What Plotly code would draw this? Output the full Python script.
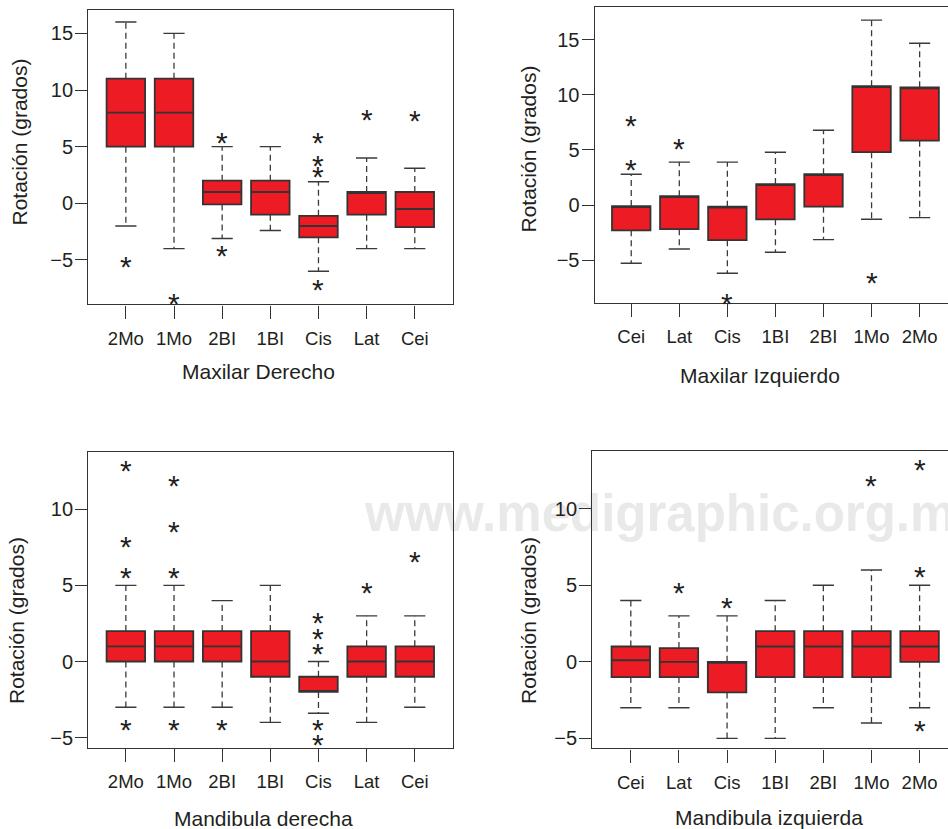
import plotly.graph_objects as go

# ---------------- data ----------------
# Panel 1: Maxilar Derecho
cats1 = ["2Mo", "1Mo", "2BI", "1BI", "Cis", "Lat", "Cei"]
lo1 = [-2, -4, -3.1, -2.4, -6, -4, -4]
q1_1 = [5, 5, -0.1, -1, -3, -1, -2.1]
med1 = [8, 8, 1, 1, -2, 1, -0.5]
q3_1 = [11, 11, 2, 2, -1.1, 1, 1]
hi1 = [16, 15, 5, 5, 1.9, 4, 3.1]
out1 = [[-5], [-8.2], [6, -4], [], [6, 4, 3, -7], [8], [7.9]]

# Panel 2: Maxilar Izquierdo
cats2 = ["Cei", "Lat", "Cis", "1BI", "2BI", "1Mo", "2Mo"]
lo2 = [-5.3, -4.0, -6.2, -4.3, -3.15, -1.3, -1.15]
q1_2 = [-2.3, -2.2, -3.2, -1.3, -0.15, 4.8, 5.85]
med2 = [-0.1, 0.8, -0.15, 1.9, 2.8, 10.8, 10.7]
q3_2 = [-0.1, 0.8, -0.15, 1.9, 2.8, 10.8, 10.7]
hi2 = [2.8, 3.9, 3.9, 4.8, 6.8, 16.8, 14.7]
out2 = [[7.9, 3.9], [5.8], [-8.3], [], [], [-6.4], []]

# Panel 3: Mandibula derecha
cats3 = ["2Mo", "1Mo", "2BI", "1BI", "Cis", "Lat", "Cei"]
lo3 = [-3, -3, -3, -4, -3.4, -4, -3]
q1_3 = [0, 0, 0, -1, -2, -1, -1]
med3 = [1, 1, 1, 0, -2, 0, 0]
q3_3 = [2, 2, 2, 2, -1, 1, 1]
hi3 = [5, 5, 4, 5, 0, 3, 3]
out3 = [[13, 8, 6, -4], [12, 9, 6, -4], [-4], [], [3, 2, 1, -4, -5], [5], [7]]

# Panel 4: Mandibula izquierda
cats4 = ["Cei", "Lat", "Cis", "1BI", "2BI", "1Mo", "2Mo"]
lo4 = [-3, -3, -5, -5, -3, -4, -3]
q1_4 = [-1, -1, -2, -1, -1, -1, 0]
med4 = [0.1, 0, 0, 1, 1, 1, 1]
q3_4 = [1, 0.9, 0, 2, 2, 2, 2]
hi4 = [4, 3, 3, 4, 5, 6, 5]
out4 = [[], [5], [4], [], [], [12], [13, 6, -4]]

xtitles = ["Maxilar Derecho", "Maxilar Izquierdo", "Mandibula derecha", "Mandibula izquierda"]
ytitle = "Rotación (grados)"
yticks = [-5, 0, 5, 10, 15]

# ---------------- styling ----------------
W, H = 948, 829
RED = "#ED1C24"
EDGE = "#333333"
INK = "#231f20"
FONT = "Liberation Sans, Arial, Helvetica, sans-serif"
BOXW = 0.8
CAPH = 0.22

panels = [
    dict(cats=cats1, lo=lo1, q1=q1_1, med=med1, q3=q3_1, hi=hi1, out=out1,
         xdom=[88.3 / W, 453.3 / W], ydom=[1 - 304.3 / H, 1 - 10 / H],
         xr=[-0.78, 6.80], yr=[-8.91, 17.06], ymirror=True,
         xt=(258.5, 372), yt=(18.5, 142)),
    dict(cats=cats2, lo=lo2, q1=q1_2, med=med2, q3=q3_2, hi=hi2, out=out2,
         xdom=[594.7 / W, 1.0], ydom=[1 - 302.7 / H, 1 - 7.3 / H],
         xr=[-0.76, 6.59], yr=[-8.88, 17.97], ymirror=False,
         xt=(760, 375.7), yt=(527.5, 149)),
    dict(cats=cats3, lo=lo3, q1=q1_3, med=med3, q3=q3_3, hi=hi3, out=out3,
         xdom=[88.3 / W, 453.3 / W], ydom=[1 - 747.7 / H, 1 - 451.7 / H],
         xr=[-0.78, 6.80], yr=[-5.66, 13.78], ymirror=True,
         xt=(263.7, 818), yt=(16, 621)),
    dict(cats=cats4, lo=lo4, q1=q1_4, med=med4, q3=q3_4, hi=hi4, out=out4,
         xdom=[592.3 / W, 1.0], ydom=[1 - 748.3 / H, 1 - 451 / H],
         xr=[-0.80, 6.59], yr=[-5.65, 13.77], ymirror=False,
         xt=(769, 817), yt=(528, 621)),
]

fig = go.Figure()
annotations = []
layout_axes = {}

for k, p in enumerate(panels, start=1):
    xa = "x" if k == 1 else f"x{k}"
    ya = "y" if k == 1 else f"y{k}"
    idx = list(range(len(p["cats"])))

    # whiskers (dashed)
    wx, wy = [], []
    for i in idx:
        wx += [i, i, None, i, i, None]
        wy += [p["q3"][i], p["hi"][i], None, p["q1"][i], p["lo"][i], None]
    fig.add_trace(go.Scatter(x=wx, y=wy, mode="lines", xaxis=xa, yaxis=ya,
                             line=dict(color="#3a3a3a", width=1.3, dash="6px,4px"),
                             hoverinfo="skip", showlegend=False))
    # staples
    cx, cy = [], []
    for i in idx:
        for v in (p["hi"][i], p["lo"][i]):
            cx += [i - CAPH, i + CAPH, None]
            cy += [v, v, None]
    fig.add_trace(go.Scatter(x=cx, y=cy, mode="lines", xaxis=xa, yaxis=ya,
                             line=dict(color="#3a3a3a", width=1.4),
                             hoverinfo="skip", showlegend=False))
    # boxes
    fig.add_trace(go.Box(x=idx, q1=p["q1"], median=p["med"], q3=p["q3"],
                         lowerfence=p["q1"], upperfence=p["q3"],
                         width=BOXW, whiskerwidth=0, boxpoints=False,
                         fillcolor=RED, line=dict(color=EDGE, width=1.8),
                         xaxis=xa, yaxis=ya, hoverinfo="skip", showlegend=False))
    # outliers as '*'
    for i in idx:
        for v in p["out"][i]:
            annotations.append(dict(x=i, y=v, xref=xa, yref=ya, text="*",
                                    showarrow=False, yshift=-7,
                                    font=dict(family=FONT, size=30, color=INK)))

    axis_common = dict(showline=True, linecolor=EDGE, linewidth=1.4,
                       ticks="outside", tickcolor=EDGE, tickwidth=1.3,
                       showgrid=False, zeroline=False)
    layout_axes["xaxis" if k == 1 else f"xaxis{k}"] = dict(
        axis_common, domain=p["xdom"], range=p["xr"], anchor=ya,
        tickmode="array", tickvals=idx, ticktext=p["cats"], mirror=True,
        ticklen=13, ticklabelstandoff=4,
        tickfont=dict(family=FONT, size=18.5, color=INK))
    layout_axes["yaxis" if k == 1 else f"yaxis{k}"] = dict(
        axis_common, domain=p["ydom"], range=p["yr"], anchor=xa,
        tickmode="array", tickvals=yticks, mirror=p["ymirror"],
        ticklen=12, ticklabelstandoff=-2,
        tickfont=dict(family=FONT, size=20, color=INK))

    # axis titles
    annotations.append(dict(x=p["xt"][0] / W, y=1 - p["xt"][1] / H, xref="paper", yref="paper",
                            text=xtitles[k - 1], showarrow=False, xanchor="center", yanchor="middle",
                            font=dict(family=FONT, size=21, color=INK)))
    annotations.append(dict(x=p["yt"][0] / W, y=1 - p["yt"][1] / H, xref="paper", yref="paper",
                            text=ytitle, showarrow=False, textangle=-90,
                            xanchor="center", yanchor="middle",
                            font=dict(family=FONT, size=21, color=INK)))

# watermark, drawn below everything
watermark = "www.medigraphic.org.mx"
shapes = [dict(type="rect", xref="paper", yref="paper",
               x0=359 / W, x1=1.6, y0=1 - 553.5 / H, y1=1 - 463.5 / H,
               line=dict(width=0), fillcolor="rgba(0,0,0,0)", layer="below",
               label=dict(text=watermark, textposition="middle left", padding=3,
                          font=dict(family=FONT, size=51, color="#e9e9e9", weight="bold")))]

fig.update_layout(width=W, height=H, margin=dict(l=0, r=0, t=0, b=0),
                  paper_bgcolor="white", plot_bgcolor="rgba(0,0,0,0)",
                  showlegend=False, annotations=annotations, shapes=shapes,
                  **layout_axes)

fig.write_html("out.html", config={"displayModeBar": False},
               post_script="document.body.style.margin='0px';document.body.style.overflow='hidden';")
